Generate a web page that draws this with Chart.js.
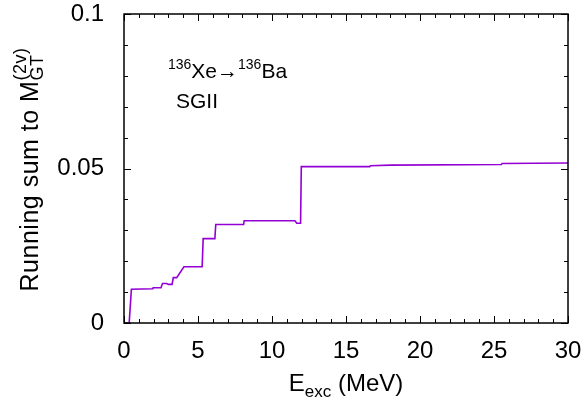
<!DOCTYPE html>
<html>
<head>
<meta charset="utf-8">
<script src="https://cdn.jsdelivr.net/npm/chart.js@4.4.1/dist/chart.umd.min.js"></script>
<style>
  html, body { margin: 0; padding: 0; background: #fff; }
  #wrap { width: 587px; height: 402px; }
</style>
</head>
<body>
<div id="wrap"><canvas id="sumChart" width="587" height="402"></canvas></div>
<script>
// excitation energy (MeV) and running sum
const energies   = [0, 0.35, 0.5, 1.95, 1.97, 2.5, 2.6, 2.88, 3.0, 3.25, 3.33, 3.56, 4.05, 5.28, 5.35, 6.14, 6.2, 8.08, 8.12, 11.55, 11.67, 11.93, 11.98, 16.6, 16.65, 18, 25.5, 25.55, 30];
const runningSum = [0, 0, 0.0109, 0.0111, 0.0114, 0.0114, 0.0128, 0.0128, 0.0125, 0.0125, 0.0147, 0.0147, 0.0182, 0.0182, 0.0273, 0.0273, 0.0319, 0.0319, 0.0331, 0.0331, 0.0323, 0.0323, 0.0506, 0.0506, 0.0509, 0.0511, 0.0513, 0.0516, 0.0518];
const xTicks = [0, 5, 10, 15, 20, 25, 30];
const yTicks = [0, 0.05, 0.1];

const FONT = '"Liberation Sans", Arial, Helvetica, sans-serif';

// border + inward ticks on all four sides, like gnuplot does
const framePlugin = {
    id: 'frame',
    afterDraw(chart) {
        const ctx = chart.ctx;
        const a = chart.chartArea;
        const xs = chart.scales.x, ys = chart.scales.y;
        ctx.save();
        ctx.strokeStyle = '#000';
        ctx.lineWidth = 1;
        for (let v = 0; v <= 30; v++) {
            const px = Math.round(xs.getPixelForValue(v)) + 0.5;
            const len = v % 5 === 0 ? 7 : 4;
            ctx.beginPath();
            ctx.moveTo(px, a.bottom); ctx.lineTo(px, a.bottom - len);
            ctx.moveTo(px, a.top); ctx.lineTo(px, a.top + len);
            ctx.stroke();
        }
        for (let i = 0; i <= 10; i++) {
            const py = Math.round(ys.getPixelForValue(i / 100)) + 0.5;
            const len = i % 5 === 0 ? 7 : 4;
            ctx.beginPath();
            ctx.moveTo(a.left, py); ctx.lineTo(a.left + len, py);
            ctx.moveTo(a.right, py); ctx.lineTo(a.right - len, py);
            ctx.stroke();
        }
        ctx.lineWidth = 1.5;
        ctx.strokeRect(a.left, a.top, a.right - a.left, a.bottom - a.top);
        ctx.restore();
    }
};

// axis titles and labels with sub/superscripts
const textPlugin = {
    id: 'texts',
    afterDraw(chart) {
        const ctx = chart.ctx;
        const a = chart.chartArea;
        ctx.save();
        ctx.fillStyle = '#000';
        ctx.textBaseline = 'alphabetic';
        ctx.textAlign = 'left';
        const big = '24px ' + FONT, small = '17px ' + FONT;

        // x title: E_exc (MeV)
        ctx.font = big;
        const wE = ctx.measureText('E').width;
        const wRest = ctx.measureText(' (MeV)').width;
        ctx.font = small;
        const wExc = ctx.measureText('exc').width;
        let x = (a.left + a.right) / 2 - (wE + wExc + wRest) / 2;
        const by = 391;
        ctx.font = big; ctx.fillText('E', x, by); x += wE;
        ctx.font = small; ctx.fillText('exc', x, by + 6); x += wExc;
        ctx.font = big; ctx.fillText(' (MeV)', x, by);

        // y title, rotated
        ctx.save();
        ctx.translate(38, (a.top + a.bottom) / 2 + 1);
        ctx.rotate(-Math.PI / 2);
        ctx.letterSpacing = '0.5px';
        const yBig = '25px ' + FONT, ySmall = '18px ' + FONT;
        ctx.font = yBig;
        const main = 'Running sum to M';
        const wMain = ctx.measureText(main).width;
        ctx.font = ySmall;
        const wSup = Math.max(ctx.measureText('(2v)').width, ctx.measureText('GT').width);
        let tx = -(wMain + wSup) / 2;
        ctx.font = yBig; ctx.fillText(main, tx, 0); tx += wMain;
        ctx.font = ySmall;
        ctx.fillText('(2v)', tx, -12);
        ctx.fillText('GT', tx, 5);
        ctx.restore();

        // annotation: 136Xe -> 136Ba
        const ann = '21px ' + FONT, annSmall = '14px ' + FONT;
        let ax = 168;
        const ay = 78;
        const parts = [['136', true], ['Xe', false], ['\u2192', false], ['136', true], ['Ba', false]];
        parts.forEach(([s, sup]) => {
            ctx.font = sup ? annSmall : ann;
            ctx.fillText(s, ax, sup ? ay - 9 : ay);
            ax += ctx.measureText(s).width;
        });
        ctx.font = ann;
        ctx.fillText('SGII', 176, 108);
        ctx.restore();
    }
};

new Chart(document.getElementById('sumChart'), {
    type: 'line',
    data: {
        datasets: [{
            data: energies.map((e, i) => ({ x: e, y: runningSum[i] })),
            borderColor: '#9400d3',
            borderWidth: 1.6,
            pointRadius: 0,
            fill: false,
            tension: 0
        }]
    },
    options: {
        responsive: false,
        animation: false,
        layout: { padding: { left: 0, right: 19, top: 14, bottom: 0 } },
        plugins: { legend: { display: false }, tooltip: { enabled: false } },
        scales: {
            x: {
                type: 'linear',
                min: 0, max: 30,
                grid: { display: false },
                border: { display: false },
                afterBuildTicks: s => { s.ticks = xTicks.map(v => ({ value: v })); },
                afterFit: s => { s.height = 79; s.paddingLeft = 0; s.paddingRight = 0; },
                ticks: {
                    color: '#000', padding: 6, maxRotation: 0,
                    font: { family: FONT, size: 24 },
                    callback: v => String(v)
                }
            },
            y: {
                type: 'linear',
                min: 0, max: 0.1,
                grid: { display: false },
                border: { display: false },
                afterBuildTicks: s => { s.ticks = yTicks.map(v => ({ value: v })); },
                afterFit: s => { s.width = 124; s.paddingTop = 0; s.paddingBottom = 0; },
                ticks: {
                    color: '#000', padding: 12,
                    font: { family: FONT, size: 24 },
                    callback: v => String(+v.toFixed(2))
                }
            }
        }
    },
    plugins: [framePlugin, textPlugin]
});
</script>
</body>
</html>
